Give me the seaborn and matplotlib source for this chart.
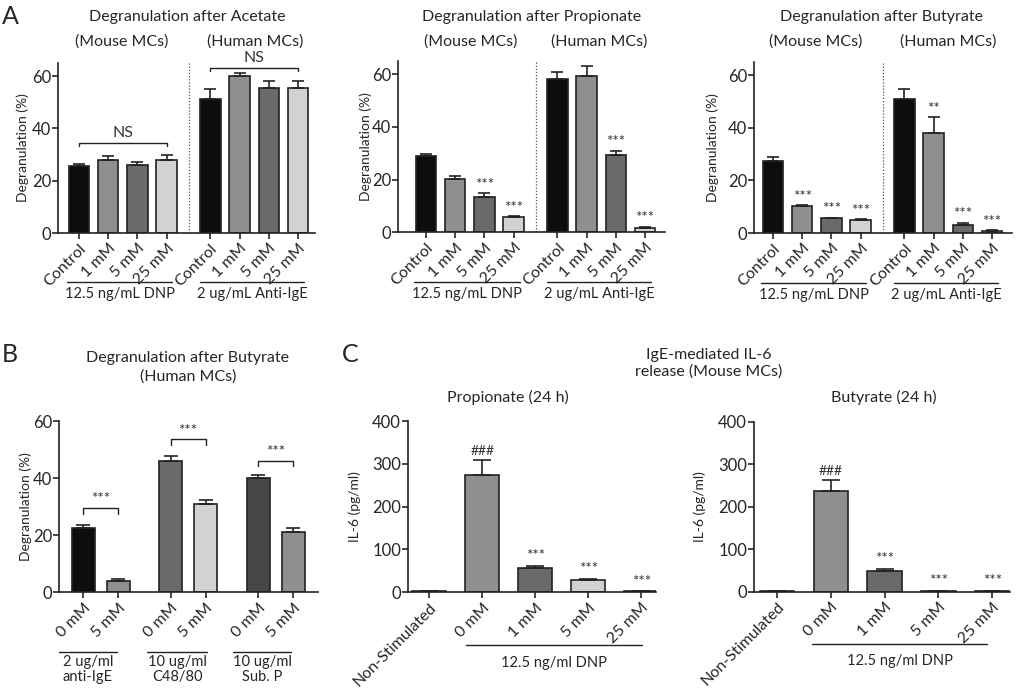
import numpy as np
import pandas as pd
import matplotlib
matplotlib.use("Agg")
import matplotlib.pyplot as plt
import seaborn as sns

# ---------------- data ----------------
doses = ["Control", "1 mM", "5 mM", "25 mM"]
a_pos = [0, 1, 2, 3, 4.5, 5.5, 6.5, 7.5]
a_labels = doses + doses

acetate_mean = [25.8, 28.1, 26.0, 28.1, 51.4, 60.1, 55.3, 55.3]
acetate_err = [0.6, 1.2, 1.1, 1.8, 3.7, 1.0, 2.8, 2.8]

propionate_mean = [28.9, 20.2, 13.5, 5.8, 58.0, 59.3, 29.4, 1.8]
propionate_err = [1.0, 1.2, 1.3, 0.4, 2.8, 3.8, 1.5, 0.3]
propionate_sig = ["", "", "***", "***", "", "", "***", "***"]

butyrate_mean = [27.4, 10.3, 5.6, 5.1, 50.9, 38.2, 2.9, 0.6]
butyrate_err = [1.5, 0.3, 0.2, 0.2, 3.8, 5.8, 1.0, 0.5]
butyrate_sig = ["", "***", "***", "***", "", "**", "***", "***"]

b_pos = [0, 1, 2.5, 3.5, 5, 6]
b_labels = ["0 mM", "5 mM"] * 3
b_mean = [22.4, 4.1, 46.1, 30.8, 40.0, 21.2]
b_err = [1.2, 0.7, 1.6, 1.6, 1.1, 1.2]
b_groups = ["2 ug/ml\nanti-IgE", "10 ug/ml\nC48/80", "10 ug/ml\nSub. P"]

c_pos = [0, 1, 2, 3, 4]
c_labels = ["Non-Stimulated", "0 mM", "1 mM", "5 mM", "25 mM"]
c_prop_mean = [2, 274, 56, 28, 2]
c_prop_err = [0, 35, 6, 3, 0]
c_prop_sig = ["", "###", "***", "***", "***"]
c_but_mean = [2, 237, 48, 2, 2]
c_but_err = [0, 26, 5, 0, 0]
c_but_sig = ["", "###", "***", "***", "***"]

# ---------------- style ----------------
BLACK, MID, DARK, LIGHT, DARKER = "#0d0d0d", "#8f8f8f", "#6a6a6a", "#d2d2d2", "#474747"
a_colors = [BLACK, MID, DARK, LIGHT] * 2
b_colors = [BLACK, MID, DARK, LIGHT, DARKER, MID]
c_colors = [LIGHT, MID, DARK, LIGHT, LIGHT]
EDGE = "#222222"

sns.set_theme(style="ticks")
plt.rcParams["font.family"] = ["Lato", "DejaVu Sans"]
plt.rcParams["axes.edgecolor"] = EDGE
plt.rcParams["axes.linewidth"] = 1.2

W, H = 1017, 692
fig = plt.figure(figsize=(W / 100, H / 100), dpi=100)


def px_axes(l, t, r, b):
    return fig.add_axes([l / W, 1 - b / H, (r - l) / W, (b - t) / H])


def ftext(x, y, s, **kw):
    fig.text(x / W, 1 - y / H, s, ha="center", va="center", **kw)


def panel(ax, pos, mean, err, colors, labels, width, cap, ylim, yticks, xlim,
          ylabel, ylab_dx, axw):
    df = pd.DataFrame({"x": pos, "y": mean, "k": [str(i) for i in range(len(pos))]})
    pal = {str(i): c for i, c in enumerate(colors)}
    sns.barplot(data=df, x="x", y="y", hue="k", palette=pal, native_scale=True,
                width=width, legend=False, edgecolor=EDGE, linewidth=1.2,
                errorbar=None, saturation=1, ax=ax)
    ax.errorbar(pos, mean, yerr=[np.zeros(len(err)), err], fmt="none",
                ecolor=EDGE, elinewidth=1.2, capsize=cap, capthick=1.2)
    ax.set_xlim(*xlim)
    ax.set_ylim(*ylim)
    ax.set_yticks(yticks)
    ax.set_xticks(pos)
    ax.set_xticklabels(labels, rotation=45, ha="right", rotation_mode="anchor",
                       fontsize=11.5)
    ax.tick_params(axis="y", labelsize=12, length=4, width=1.2, pad=1)
    ax.tick_params(axis="x", length=4, width=1.2, pad=2)
    ax.set_xlabel("")
    ax.set_ylabel(ylabel, fontsize=10, va="center")
    ax.yaxis.set_label_coords(-ylab_dx / axw, 0.5)
    sns.despine(ax=ax)


def sig(ax, pos, mean, err, marks, dy=1):
    for x, m, e, s in zip(pos, mean, err, marks):
        if s:
            ax.annotate(s, (x, m + e), xytext=(0, dy), textcoords="offset points",
                        ha="center", va="bottom", fontsize=11 if s[0] == "*" else 10,
                        color="#333333")


def group_line(ax, x0, x1, text, yl=-0.29, yt=-0.36, fs=10.5):
    tr = ax.get_xaxis_transform()
    ax.plot([x0, x1], [yl, yl], color=EDGE, lw=1.0, transform=tr, clip_on=False)
    ax.text((x0 + x1) / 2, yt, text, transform=tr, ha="center", va="center",
            fontsize=fs, linespacing=1.1)


def bracket(ax, x0, x1, y, drop, text, ty):
    ax.plot([x0, x0, x1, x1], [y - drop, y, y, y - drop], color=EDGE, lw=1.0,
            clip_on=False)
    ax.text((x0 + x1) / 2, ty, text, ha="center", va="center",
            fontsize=11 if text.startswith("*") else 11.5, color="#333333",
            clip_on=False)


# ---------------- panel A ----------------
a_specs = [
    ((58, 63, 315, 233), acetate_mean, acetate_err, None, (-0.72, 8.08), 35),
    ((398, 61, 665, 232.3), propionate_mean, propionate_err, propionate_sig, (-0.96, 8.18), 32),
    ((754, 62, 1012, 233), butyrate_mean, butyrate_err, butyrate_sig, (-0.65, 8.18), 41),
]
a_axes = []
for box, mean, err, marks, xlim, dx in a_specs:
    ax = px_axes(*box)
    panel(ax, a_pos, mean, err, a_colors, a_labels, 0.7, 4.5, (0, 65),
          [0, 20, 40, 60], xlim, "Degranulation (%)", dx, box[2] - box[0])
    ax.axvline(3.75, color="#555555", lw=0.9, ls=(0, (1, 1.5)))
    if marks:
        sig(ax, a_pos, mean, err, marks)
    group_line(ax, -0.4, 3.2, "12.5 ng/mL DNP")
    group_line(ax, 4.15, 7.7, "2 ug/mL Anti-IgE")
    a_axes.append(ax)

bracket(a_axes[0], 0, 3, 34.5, 1.2, "NS", 38.2)
bracket(a_axes[0], 4.5, 7.5, 63.2, 1.2, "NS", 66.8)

ftext(10, 16, "A", fontsize=18)
for cx, title, mx, hx in [(187, "Degranulation after Acetate", 122, 255),
                          (532, "Degranulation after Propionate", 471, 599),
                          (882, "Degranulation after Butyrate", 816, 948)]:
    ftext(cx, 17, title, fontsize=11.5)
    ftext(mx, 42, "(Mouse MCs)", fontsize=11.5)
    ftext(hx, 42, "(Human MCs)", fontsize=11.5)

# ---------------- panel B ----------------
axb = px_axes(59, 421, 318, 592.3)
panel(axb, b_pos, b_mean, b_err, b_colors, b_labels, 0.66, 5, (0, 60),
      [0, 20, 40, 60], (-0.69, 6.71), "Degranulation (%)", 33, 259)
for (x0, x1), y, ty in zip([(0, 1), (2.5, 3.5), (5, 6)], [29.6, 53.6, 46.1],
                           [32.6, 56.6, 49.3]):
    bracket(axb, x0, x1, y, 2.0, "***", ty)
for (x0, x1), g in zip([(-0.69, 0.97), (1.83, 3.54), (4.29, 5.94)], b_groups):
    group_line(axb, x0, x1, g, yl=-0.347, yt=-0.45)

ftext(10, 354, "B", fontsize=18)
ftext(188, 358, "Degranulation after Butyrate", fontsize=11.5)
ftext(188, 377, "(Human MCs)", fontsize=11.5)

# ---------------- panel C ----------------
c_specs = [
    ((408, 421, 656, 592.3), c_prop_mean, c_prop_err, c_prop_sig, (-0.4, 4.28), 53, "Propionate (24 h)", 508, (0.7, 4.02)),
    ((754, 421.7, 1010, 591.7), c_but_mean, c_but_err, c_but_sig, (-0.43, 4.33), 54, "Butyrate (24 h)", 884, (0.65, 3.9)),
]
for box, mean, err, marks, xlim, dx, title, tx, (g0, g1) in c_specs:
    ax = px_axes(*box)
    panel(ax, c_pos, mean, err, c_colors, c_labels, 0.64, 6.5, (0, 400),
          [0, 100, 200, 300, 400], xlim, "IL-6 (pg/ml)", dx, box[2] - box[0])
    sig(ax, c_pos, mean, err, marks, dy=2)
    group_line(ax, g0, g1, "12.5 ng/ml DNP", yl=-0.305, yt=-0.41)
    ftext(tx, 397, title, fontsize=11.5)

ftext(350, 354, "C", fontsize=18)
ftext(709, 355, "IgE-mediated IL-6", fontsize=11.5)
ftext(709, 372, "release (Mouse MCs)", fontsize=11.5)

fig.savefig("out.png", dpi=100, facecolor="white")
